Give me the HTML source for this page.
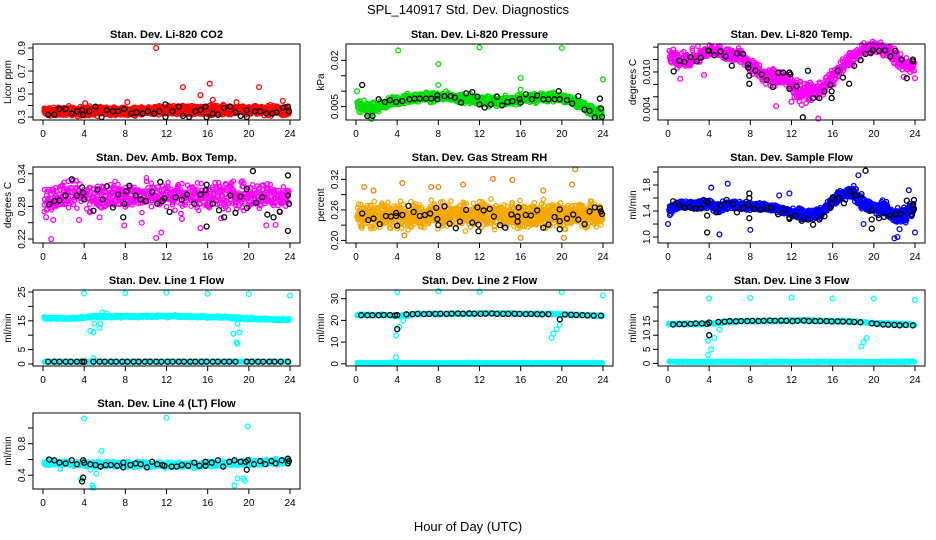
<!DOCTYPE html>
<html><head><meta charset="utf-8"><style>
html,body{margin:0;padding:0;background:#fff}
svg{display:block;font-family:"Liberation Sans",Arial,sans-serif}
</style></head><body>
<svg id="chart" width="936" height="540" viewBox="0 0 936 540">
<rect x="0" y="0" width="936" height="540" fill="#fff"/>
<text x="468" y="14" text-anchor="middle" font-size="13">SPL_140917  Std. Dev. Diagnostics</text>
<text x="468" y="531" text-anchor="middle" font-size="13">Hour of Day (UTC)</text>
</svg>
<script>
// ---------- data ----------
const hourTicks=[0,4,8,12,16,20,24];
const bandHours=[0,1,2,3,4,5,6,7,8,9,10,11,12,13,14,15,16,17,18,19,20,21,22,23,24];

const co2Center=[0.35,0.35,0.35,0.35,0.35,0.35,0.35,0.35,0.35,0.35,0.35,0.35,0.36,0.36,0.36,0.36,0.36,0.36,0.36,0.36,0.36,0.36,0.36,0.36,0.35];
const co2Spread=[0.045,0.045,0.045,0.045,0.045,0.045,0.045,0.045,0.045,0.045,0.045,0.045,0.05,0.05,0.05,0.05,0.05,0.05,0.05,0.05,0.05,0.05,0.05,0.05,0.045];
const co2Black=[[0.5,0.32],[1.1,0.32],[1.6,0.37],[2.2,0.37],[2.8,0.33],[3.3,0.35],[3.8,0.36],[3.9,0.32],[4.5,0.35],[5.1,0.39],[5.7,0.30],[6.2,0.36],[6.8,0.35],[7.3,0.35],[7.9,0.37],[8.6,0.33],[9.1,0.34],[9.7,0.33],[10.2,0.35],[10.8,0.33],[11.3,0.35],[11.9,0.41],[11.9,0.30],[12.6,0.35],[13.2,0.39],[13.6,0.31],[14.2,0.30],[14.8,0.35],[15.3,0.36],[15.8,0.39],[15.9,0.30],[16.5,0.33],[17.0,0.32],[17.6,0.38],[18.2,0.39],[18.7,0.34],[19.2,0.31],[19.8,0.36],[19.8,0.30],[20.6,0.35],[21.1,0.35],[21.7,0.33],[22.3,0.33],[22.7,0.34],[23.3,0.38],[23.8,0.39],[23.9,0.35]];
const co2Out=[[11.0,0.90],[13.6,0.56],[16.2,0.59],[21.0,0.56],[15.3,0.49],[4.1,0.42],[8.2,0.43],[16.5,0.45],[18.8,0.43],[23.3,0.44]];

const presCenter=[0.0055,0.0045,0.0045,0.006,0.007,0.0075,0.008,0.0082,0.0082,0.008,0.0075,0.0075,0.007,0.0068,0.0068,0.007,0.0072,0.0078,0.008,0.008,0.0078,0.007,0.0055,0.0035,0.0025];
const presSpread=[0.0022,0.0022,0.0022,0.002,0.0018,0.0018,0.0018,0.0018,0.0018,0.0018,0.0018,0.0018,0.0018,0.0018,0.0018,0.0018,0.0018,0.0018,0.0018,0.0018,0.0018,0.0018,0.002,0.0022,0.0022];
const presBlack=[[0.6,0.012],[1.1,0.002],[1.6,0.002],[2.2,0.0074],[2.8,0.0065],[3.3,0.0071],[3.9,0.0065],[4.5,0.0068],[5.2,0.0074],[5.7,0.0076],[6.2,0.0076],[6.8,0.0076],[7.3,0.0076],[7.9,0.0086],[7.9,0.0074],[8.6,0.0084],[9.2,0.0084],[9.6,0.0079],[10.2,0.0063],[10.7,0.0093],[11.3,0.0097],[11.8,0.0082],[12.0,0.0057],[12.5,0.0047],[13.1,0.0057],[13.7,0.0082],[14.2,0.0054],[14.7,0.0065],[15.2,0.0068],[15.9,0.0074],[16.0,0.0063],[16.5,0.009],[17.1,0.0074],[17.6,0.0086],[18.2,0.0074],[18.7,0.0074],[19.3,0.0074],[19.7,0.010],[19.8,0.0074],[20.5,0.0071],[21.0,0.006],[21.6,0.0084],[22.2,0.004],[22.7,0.0036],[23.2,0.0015],[23.7,0.0076],[23.8,0.0044],[23.9,0.0017]];
const presOut=[[0.1,0.010],[4.1,0.0232],[8.0,0.0188],[12.0,0.0242],[16.0,0.0143],[20.0,0.024],[24.0,0.0138],[8.0,0.012],[16.0,0.0105],[1.5,0.001]];

const tempCenter=[0.0125,0.012,0.012,0.0125,0.0135,0.0133,0.0128,0.0127,0.011,0.0098,0.009,0.0092,0.0078,0.0068,0.0068,0.0075,0.009,0.011,0.0125,0.0135,0.014,0.0137,0.0125,0.011,0.011];
const tempSpread=[0.0016,0.0016,0.0016,0.0016,0.0012,0.0012,0.0014,0.0014,0.0016,0.0016,0.0018,0.0018,0.0018,0.0018,0.0018,0.0018,0.0016,0.0016,0.0014,0.0012,0.001,0.0012,0.0016,0.0016,0.0016];
const tempBlack=[[0.55,0.0101],[1.1,0.0118],[1.6,0.0116],[2.2,0.0124],[2.8,0.0117],[3.2,0.0123],[3.9,0.0135],[4.0,0.0134],[4.5,0.0127],[5.1,0.0133],[5.6,0.0125],[6.2,0.011],[6.7,0.013],[7.3,0.0129],[7.8,0.0112],[7.8,0.0107],[7.9,0.0094],[7.9,0.0081],[8.5,0.0102],[9.1,0.0096],[9.6,0.0087],[10.2,0.0076],[10.7,0.0099],[11.2,0.0099],[11.8,0.0099],[11.8,0.0073],[11.9,0.0096],[12.5,0.0077],[13.1,0.0027],[13.6,0.0102],[14.1,0.0058],[14.7,0.0058],[15.2,0.0069],[15.8,0.0079],[15.9,0.0069],[15.9,0.0058],[16.5,0.0102],[17.0,0.0091],[17.6,0.0081],[18.1,0.011],[18.7,0.0119],[19.2,0.0129],[19.7,0.0131],[19.9,0.0135],[20.5,0.0134],[21.1,0.0135],[21.6,0.0125],[22.1,0.0134],[22.7,0.012],[23.2,0.009],[23.8,0.0117],[23.8,0.012]];
const tempOut=[[14.6,0.0025],[10.5,0.0045],[12.0,0.0052],[13.0,0.0047],[1.2,0.0089],[3.5,0.0095],[22.9,0.0092],[24.0,0.009]];

const ambCenter=[0.295,0.295,0.3,0.3,0.3,0.3,0.3,0.3,0.3,0.3,0.3,0.3,0.3,0.3,0.3,0.3,0.3,0.3,0.3,0.3,0.3,0.3,0.3,0.3,0.3];
const ambSpread=[0.03,0.03,0.032,0.032,0.032,0.032,0.032,0.032,0.032,0.032,0.032,0.032,0.032,0.032,0.032,0.032,0.032,0.032,0.032,0.032,0.032,0.032,0.032,0.032,0.03];
const ambBlack=[[0.6,0.284],[1.1,0.29],[1.6,0.291],[2.2,0.30],[2.8,0.33],[3.3,0.30],[3.8,0.315],[3.9,0.305],[4.0,0.293],[4.9,0.272],[5.3,0.311],[5.8,0.293],[6.2,0.317],[6.8,0.278],[7.3,0.302],[7.8,0.26],[7.9,0.285],[8.1,0.308],[8.4,0.318],[9.0,0.30],[9.5,0.293],[10.0,0.29],[10.6,0.306],[11.1,0.285],[11.4,0.325],[11.6,0.29],[11.8,0.295],[12.3,0.27],[12.9,0.297],[13.5,0.292],[14.0,0.302],[14.7,0.285],[15.3,0.302],[15.8,0.31],[15.9,0.32],[15.9,0.243],[16.5,0.285],[17.1,0.273],[17.6,0.26],[18.2,0.30],[18.7,0.268],[19.2,0.298],[19.8,0.277],[19.8,0.312],[20.4,0.345],[20.7,0.287],[21.3,0.297],[21.8,0.265],[22.4,0.26],[23.0,0.27],[23.8,0.337],[23.8,0.30],[23.9,0.285],[23.8,0.235]];
const ambOut=[[0.8,0.22],[1.0,0.255],[11.0,0.222],[11.5,0.232],[15.3,0.24],[21.7,0.245],[0.3,0.26],[3.5,0.255],[7.9,0.245],[9.6,0.25],[13.5,0.257],[17.3,0.258],[22.6,0.246],[5.5,0.26]];

const rhCenter=[0.25,0.25,0.25,0.25,0.25,0.25,0.25,0.25,0.25,0.25,0.25,0.25,0.25,0.25,0.25,0.25,0.25,0.25,0.25,0.25,0.25,0.25,0.25,0.25,0.25];
const rhSpread=[0.03,0.03,0.03,0.03,0.03,0.03,0.03,0.03,0.03,0.03,0.03,0.03,0.03,0.03,0.03,0.03,0.03,0.03,0.03,0.03,0.03,0.03,0.03,0.03,0.03];
const rhBlack=[[0.6,0.253],[1.2,0.240],[1.7,0.243],[2.3,0.232],[2.9,0.248],[3.4,0.247],[3.9,0.254],[3.9,0.248],[4.0,0.229],[4.5,0.250],[5.1,0.268],[5.6,0.256],[6.2,0.248],[6.7,0.250],[7.2,0.253],[7.8,0.264],[7.9,0.242],[8.0,0.230],[8.6,0.267],[9.1,0.233],[9.7,0.224],[10.1,0.237],[10.7,0.260],[11.3,0.235],[11.8,0.265],[11.9,0.218],[11.9,0.231],[12.4,0.259],[13.0,0.262],[13.4,0.247],[14.0,0.230],[14.5,0.225],[15.1,0.251],[15.7,0.247],[15.8,0.265],[15.7,0.237],[16.5,0.250],[17.0,0.249],[17.6,0.259],[18.2,0.225],[18.7,0.231],[19.3,0.246],[19.8,0.261],[19.8,0.238],[19.8,0.222],[20.5,0.243],[21.1,0.251],[21.6,0.241],[22.2,0.232],[22.7,0.257],[23.2,0.265],[23.7,0.263],[23.8,0.257],[23.9,0.252]];
const rhOut=[[0.8,0.305],[1.7,0.298],[4.5,0.313],[8.0,0.305],[10.4,0.31],[13.3,0.321],[15.2,0.319],[21.3,0.34],[21.0,0.31],[18.2,0.298],[4.7,0.21],[16.0,0.205],[20.2,0.205],[7.3,0.305]];

const flowCenter=[1.4,1.5,1.5,1.5,1.5,1.45,1.5,1.48,1.48,1.47,1.45,1.42,1.38,1.35,1.33,1.38,1.55,1.65,1.7,1.5,1.45,1.45,1.32,1.35,1.45];
const flowSpread=[0.1,0.08,0.08,0.08,0.08,0.1,0.08,0.08,0.08,0.07,0.07,0.08,0.08,0.09,0.09,0.09,0.1,0.1,0.12,0.12,0.12,0.12,0.14,0.14,0.12];
const flowBlack=[[0.5,1.55],[1.1,1.49],[1.6,1.45],[2.1,1.46],[2.7,1.44],[3.2,1.44],[3.7,1.55],[3.9,1.53],[3.8,1.33],[3.8,1.07],[4.7,1.38],[5.1,1.49],[5.7,1.57],[6.3,1.51],[6.7,1.38],[7.3,1.45],[7.8,1.49],[7.9,1.29],[7.9,1.60],[7.9,1.67],[8.4,1.43],[9.0,1.42],[9.6,1.45],[10.0,1.45],[10.7,1.35],[11.3,1.42],[11.8,1.30],[11.8,1.28],[12.4,1.33],[13.0,1.25],[13.6,1.27],[14.1,1.19],[14.7,1.27],[15.2,1.32],[15.8,1.45],[15.9,1.52],[16.0,1.61],[16.6,1.60],[17.1,1.52],[17.7,1.70],[18.2,1.64],[18.8,1.66],[19.2,2.02],[19.8,1.13],[19.8,1.27],[19.8,1.41],[20.5,1.29],[21.0,1.31],[21.6,1.33],[22.1,1.35],[22.6,1.36],[23.2,1.56],[23.7,1.34],[23.8,1.49],[23.9,1.57],[23.9,1.43]];
const flowOut=[[0.0,1.2],[4.2,1.76],[5.0,1.04],[5.8,1.82],[8.0,1.11],[11.8,1.67],[10.8,1.64],[18.5,1.95],[22.3,1.0],[22.5,1.12],[24.0,1.07],[22.0,0.98],[19.0,1.2],[23.4,1.72]];

const line1Center=[16,16,15.8,15.8,16.2,16.5,16.5,16.5,16.5,16.5,16.6,16.6,16.6,16.6,16.5,16.4,16.4,16.3,16.2,16.0,15.8,15.6,15.5,15.4,15.3];
const line1Low=[0.8,0.8,0.8,0.8,0.8,0.8,0.8,0.8,0.8,0.8,0.8,0.8,0.8,0.8,0.8,0.8,0.8,0.8,0.8,0.8,0.8,0.8,0.8,0.8,0.8];
const line1Black=[0.8,0.8,0.8,0.8,0.8,0.8,0.8,0.8,0.8,0.8,0.8,0.8,0.8,0.8,0.8,0.8,0.8,0.8,0.8,0.8,0.8,0.8,0.8,0.8,0.8,0.8,0.8,0.8,0.8,0.8,0.8,0.8,0.8,0.8,0.8,0.8,0.8,0.8,0.8,0.8,0.8,0.8,0.8];
const line1Out=[[4,24.5],[8,24.6],[12,24.8],[16,24.4],[20,24.3],[24,23.8],[4.6,11.5],[4.9,11],[5.5,12.5],[5.6,14],[5.8,18],[6.2,17.5],[5.0,14],[4.9,2],[18.5,10.5],[18.8,7.5],[18.9,7],[19.1,11],[18.9,14]];

const line2Center=[22.5,22.5,22.5,22.5,22,22.5,23,23,23,23,23,23,23.2,23.2,23.2,23.2,23,23,23,23,22.8,22.6,22.5,22.3,22.2];
const line2Low=[0.4,0.4,0.4,0.4,0.4,0.4,0.4,0.4,0.4,0.4,0.4,0.4,0.4,0.4,0.4,0.4,0.4,0.4,0.4,0.4,0.4,0.4,0.4,0.4,0.4];
const line2Black=[22.4,22.4,22.4,22.4,22.5,22.5,22.3,22.5,16,22.8,22.9,23,22.9,23,23,23.1,23,23.1,23.2,23.1,23.2,23.1,23,23.1,23.2,23,23,23,23.1,23,22.9,23,22.9,22.8,22.9,20.5,22.7,22.6,22.5,22.4,22.3,22.2,22.2];
const line2Out=[[4,33],[8,33.5],[12,33.2],[20,33],[24,31.5],[3.9,3],[3.9,13],[4.2,17],[4.6,20],[5,22],[19.0,12],[19.2,14],[19.5,16],[19.8,18]];

const line3Center=[14,14,14,14,14,14.5,14.8,15,15,15,15,15,15.2,15.2,15.2,15,15,15,14.8,14.5,14.3,14.2,14,13.8,13.6];
const line3Low=[0.6,0.6,0.6,0.6,0.6,0.6,0.6,0.6,0.6,0.6,0.6,0.6,0.6,0.6,0.6,0.6,0.6,0.6,0.6,0.6,0.6,0.6,0.6,0.6,0.6];
const line3Black=[13.8,13.9,13.9,14,14.2,14.2,14,14.5,10,14.7,14.8,15,14.9,15,15,15.1,15,15.1,15.2,15.1,15.2,15.1,15,15.1,15.2,15,15,15,15,14.9,14.9,14.8,14.8,14.7,14.6,14.2,14.0,13.8,13.7,13.6,13.5,13.6,13.5];
const line3Out=[[4,23],[8,23.2],[12,23.3],[16,23],[20,23],[24,22.5],[3.9,3],[3.9,8],[4.2,5],[4.5,9],[5,12],[18.8,6],[19.0,7.5],[19.3,9]];

const line4Center=[0.56,0.56,0.55,0.55,0.55,0.54,0.54,0.54,0.54,0.54,0.54,0.53,0.53,0.53,0.53,0.53,0.54,0.54,0.55,0.55,0.56,0.56,0.57,0.57,0.58];
const line4Spread=[0.04,0.04,0.04,0.04,0.04,0.04,0.04,0.04,0.04,0.04,0.04,0.04,0.04,0.04,0.04,0.04,0.04,0.04,0.04,0.04,0.04,0.04,0.04,0.04,0.04];
const line4Black=[[0.6,0.60],[1.1,0.59],[1.6,0.56],[2.2,0.55],[2.8,0.59],[3.3,0.54],[3.9,0.59],[3.9,0.37],[3.8,0.32],[4.0,0.56],[4.6,0.54],[5.1,0.53],[5.6,0.51],[6.1,0.53],[6.6,0.53],[7.2,0.52],[7.8,0.56],[7.8,0.50],[8.5,0.53],[9.0,0.55],[9.5,0.54],[10.1,0.50],[10.6,0.57],[11.1,0.54],[11.6,0.53],[11.8,0.52],[12.5,0.51],[13.0,0.51],[13.5,0.53],[14.1,0.52],[14.7,0.56],[15.2,0.52],[15.8,0.57],[15.8,0.52],[16.4,0.56],[17.0,0.59],[17.5,0.51],[18.1,0.57],[18.6,0.59],[19.2,0.57],[19.7,0.57],[19.8,0.47],[19.9,0.59],[20.5,0.54],[21.1,0.58],[21.6,0.54],[22.2,0.58],[22.6,0.55],[23.2,0.59],[23.8,0.55],[23.8,0.61],[23.9,0.58]];
const line4Out=[[4.0,1.12],[12.0,1.13],[19.9,1.02],[5.7,0.71],[4.8,0.27],[4.9,0.24],[3.7,0.35],[5.2,0.42],[18.6,0.27],[18.9,0.36],[19.5,0.36],[19.6,0.33],[1.7,0.48],[4.6,0.47]];

const lineBlackHours=[0.5,1.1,1.6,2.2,2.7,3.3,3.8,4.0,4.0,4.9,5.5,6.0,6.6,7.1,7.7,8.2,8.8,9.3,9.9,10.4,11.0,11.5,12.1,12.6,13.2,13.7,14.3,14.8,15.4,15.9,16.5,17.0,17.6,18.1,18.7,19.8,20.3,20.9,21.4,22.0,22.5,23.1,23.8];

// ---------- layout ----------
const svg=document.getElementById('chart');
const NS='http://www.w3.org/2000/svg';
const colX=[33,346,658], rowY=[44,167,290,413], PW=267, PH=76;
function el(tag,attrs,parent){const e=document.createElementNS(NS,tag);for(const k in attrs)e.setAttribute(k,attrs[k]);(parent||svg).appendChild(e);return e;}
function interp(arr,h){const i=Math.min(23,Math.floor(h));const f=h-i;return arr[i]*(1-f)+arr[i+1]*f;}
let seed=12345;
function jit(){seed=(seed*1103515245+12345)%2147483648;return seed/2147483648;}

function panel(slug,col,row,title,ylab,dom,ticks,labels){
  const L=colX[col],T=rowY[row];
  const g=el('g',{});
  
  
  const xs=h=>L+10+h/24*247;
  const ys=v=>T+PH-(v-dom[0])/(dom[1]-dom[0])*PH;
  const t=el('text',{x:L+PW/2,y:T-6,'text-anchor':'middle','font-size':11,'font-weight':'bold'},g);t.textContent=title;
  
  
  const yl=el('text',{transform:`translate(${L-22},${T+PH/2}) rotate(-90)`,'text-anchor':'middle','font-size':10},g);yl.textContent=ylab;
  
  
  ticks.forEach(v=>{el('line',{x1:L-5,x2:L,y1:ys(v),y2:ys(v),stroke:'#000'},g);});
  labels.forEach(v=>{const tx=el('text',{transform:`translate(${L-8},${ys(v)}) rotate(-90)`,'text-anchor':'middle','font-size':10},g);tx.textContent=String(v);
    
    });
  hourTicks.forEach(h=>{el('line',{x1:xs(h),x2:xs(h),y1:T+PH,y2:T+PH+5,stroke:'#000'},g);
    const tx=el('text',{x:xs(h),y:T+PH+17,'text-anchor':'middle','font-size':10},g);tx.textContent=h;
    
    });
  const pts=el('g',{fill:'none','stroke-width':1.3},g);
  const box=el('rect',{x:L,y:T,width:PW,height:PH,fill:'none',stroke:'#000'},g);
  
  
  return {xs,ys,pts};
}
function dot(p,h,v,c,nm,r){const e=el('circle',{cx:p.xs(h),cy:p.ys(v),r:r||2.4,stroke:c},p.pts);
  
  }
// cloud: scatter rendering of band arrays; per column n points with texture jitter
function cloud(p,center,spread,c,step,n){
  for(let h=0.15;h<=23.95;h+=step){
    const cv=interp(center,h),sv=interp(spread,h);
    for(let j=0;j<n;j++){
      const u=(jit()+jit()+jit())/1.5-1; // -1..1, centre-weighted
      dot(p,h+(jit()-0.5)*step,cv+sv*1.15*u,c,'cloud-point',2.2);
    }
  }
}
function outs(p,arr,c){arr.forEach(d=>dot(p,d[0],d[1],c,'outlier-point'));}
function blacks(p,arr){arr.forEach(d=>dot(p,d[0],d[1],'#000','hourly-point',2.5));}
function blacksH(p,vals){vals.forEach((v,i)=>dot(p,lineBlackHours[i],v,'#000','hourly-point',2.5));}
const const1=(v)=>bandHours.map(()=>v);

let p;
p=panel('co2',0,0,'Stan. Dev. Li-820 CO2','Licor ppm',[0.274,0.935],[0.3,0.4,0.5,0.6,0.7,0.8,0.9],[0.3,0.5,0.7,0.9]);
cloud(p,co2Center,co2Spread,'#ff0000',0.1,6);outs(p,co2Out,'#ff0000');blacks(p,co2Black);

p=panel('pressure',1,0,'Stan. Dev. Li-820 Pressure','kPa',[0.00065,0.0253],[0.005,0.01,0.015,0.02],[0.005,0.020]);
cloud(p,presCenter,presSpread,'#00e000',0.1,5);outs(p,presOut,'#00e000');blacks(p,presBlack);

p=panel('li820-temp',2,0,'Stan. Dev. Li-820 Temp.','degrees C',[0.00227,0.0145],[0.004,0.006,0.008,0.010,0.012,0.014],['0.004','0.010']);
cloud(p,tempCenter,tempSpread,'#ff00ff',0.12,4);outs(p,tempOut,'#ff00ff');blacks(p,tempBlack);

p=panel('amb-box-temp',0,1,'Stan. Dev. Amb. Box Temp.','degrees C',[0.2127,0.3525],[0.22,0.25,0.28,0.31,0.34],['0.22','0.28','0.34']);
cloud(p,ambCenter,ambSpread,'#ff00ff',0.15,4);outs(p,ambOut,'#ff00ff');blacks(p,ambBlack);

p=panel('gas-stream-rh',1,1,'Stan. Dev. Gas Stream RH','percent',[0.1949,0.3444],[0.20,0.23,0.26,0.29,0.32],['0.20','0.26','0.32']);
cloud(p,rhCenter,rhSpread,'#f5a800',0.12,5);outs(p,rhOut,'#f08000');blacks(p,rhBlack);

p=panel('sample-flow',2,1,'Stan. Dev. Sample Flow','ml/min',[0.908,2.077],[1.0,1.2,1.4,1.6,1.8,2.0],['1.0','1.4','1.8']);
cloud(p,flowCenter,flowSpread,'#0000ff',0.1,5);outs(p,flowOut,'#0000ff');blacks(p,flowBlack);

p=panel('line1-flow',0,2,'Stan. Dev. Line 1 Flow','ml/min',[-0.7,25.7],[0,5,10,15,20,25],[0,5,15,25]);
cloud(p,line1Center,const1(0.5),'#00ffff',0.12,3);cloud(p,line1Low,const1(0.2),'#00ffff',0.15,2);outs(p,line1Out,'#00ffff');blacksH(p,line1Black);

p=panel('line2-flow',1,2,'Stan. Dev. Line 2 Flow','ml/min',[-1,34],[0,10,20,30],[0,10,20,30]);
cloud(p,line2Center,const1(0.4),'#00ffff',0.12,3);cloud(p,line2Low,const1(0.2),'#00ffff',0.12,2);outs(p,line2Out,'#00ffff');blacksH(p,line2Black);

p=panel('line3-flow',2,2,'Stan. Dev. Line 3 Flow','ml/min',[-0.9,26],[0,5,10,15,20,25],[0,5,10,15]);
cloud(p,line3Center,const1(0.35),'#00ffff',0.12,3);cloud(p,line3Low,const1(0.2),'#00ffff',0.12,2);outs(p,line3Out,'#00ffff');blacksH(p,line3Black);

p=panel('line4-flow',0,3,'Stan. Dev. Line 4 (LT) Flow','ml/min',[0.225,1.19],[0.4,0.6,0.8,1.0],['0.4','0.8']);
cloud(p,line4Center,line4Spread,'#00ffff',0.1,4);outs(p,line4Out,'#00ffff');blacks(p,line4Black);
</script>
</body></html>
